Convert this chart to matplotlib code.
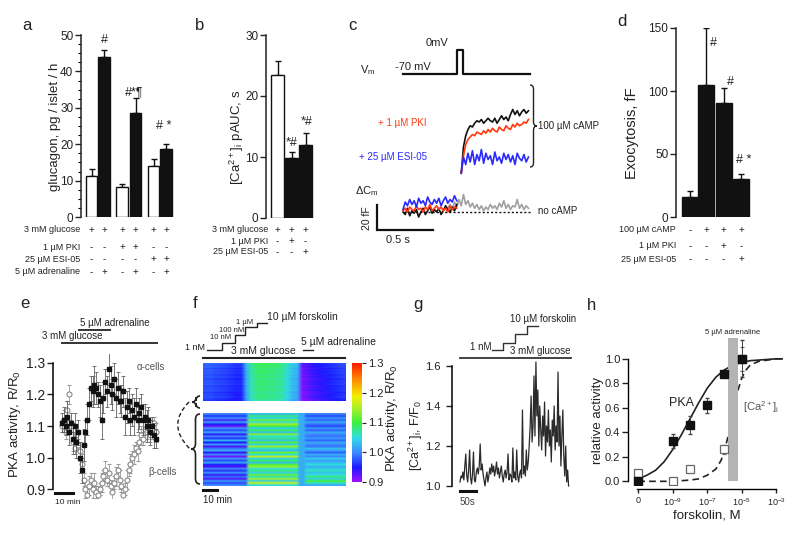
import numpy as np
import matplotlib
matplotlib.use('Agg')
import matplotlib.pyplot as plt
from matplotlib.path import Path
from matplotlib.patches import PathPatch
from matplotlib.colors import LinearSegmentedColormap
from matplotlib.ticker import MultipleLocator
import matplotlib.transforms as mtransforms

plt.rcParams['font.family'] = ['Liberation Sans', 'DejaVu Sans']
plt.rcParams['mathtext.fontset'] = 'custom'
plt.rcParams['mathtext.rm'] = 'Liberation Sans'
plt.rcParams['mathtext.it'] = 'Liberation Sans:italic'
plt.rcParams['mathtext.default'] = 'regular'

INK = '#222222'

# ---------------- data ----------------
# a: glucagon secretion
glucagon_mean = [11.3, 44.0, 8.2, 28.6, 14.0, 18.7]
glucagon_err = [1.8, 1.8, 1.0, 4.0, 1.8, 1.3]
a_labels = ['3 mM glucose', '1 µM PKI', '25 µM ESI-05', '5 µM adrenaline']
a_rows = [['+', '+', '+', '+', '+', '+'],
          ['-', '-', '+', '+', '-', '-'],
          ['-', '-', '-', '-', '+', '+'],
          ['-', '+', '-', '+', '-', '+']]

# b: Ca pAUC
ca_auc_mean = [23.5, 9.9, 11.9]
ca_auc_err = [2.3, 1.0, 2.0]
b_labels = ['3 mM glucose', '1 µM PKI', '25 µM ESI-05']
b_rows = [['+', '+', '+'], ['-', '+', '-'], ['-', '-', '+']]

# c: capacitance traces (fF), sampled every 20 ms
vm_times = [0.0, 0.482, 0.482, 0.536, 0.536, 1.134]
vm_levels = [-70, -70, 0, 0, -70, -70]
camp_black = [31, 52, 61, 66, 69, 68, 71, 73, 72, 74, 71, 73, 75, 73, 72, 75,
              71, 74, 77, 74, 76, 73, 78, 82, 78, 81, 77, 80, 82, 79, 81]
camp_red = [31, 45, 54, 58, 60, 62, 61, 64, 63, 62, 65, 63, 66, 64, 67, 65,
            64, 68, 66, 65, 69, 67, 66, 70, 68, 71, 69, 70, 72, 71, 74]
camp_blue = [31, 44, 38, 47, 40, 49, 38, 46, 41, 50, 39, 47, 42, 45, 38, 48,
             41, 44, 39, 47, 42, 46, 40, 45, 38, 47, 43, 41, 46, 40, 44]
base_blue = [2, 8, 5, 10, 6, 9, 4, 11, 7, 9, 5, 12, 8, 6, 10, 7, 11, 5, 9, 12,
             7, 10, 8, 13, 9]
base_red = [1, 3, 0, 4, 2, 1, 5, 2, 3, 0, 4, 2, 6, 1, 3, 5, 2, 4, 1, 3, 0, 5,
            2, 4, 3]
base_black = [0, -2, 3, -3, 1, -1, 2, -4, 0, 3, -2, 1, 4, -1, 2, 0, 3, -2, 1,
              5, 2, 0, 4, 1, 6]
base_gray = [3, 6, 2, 8, 4, 10, 5, 14, 6, 9, 4, 7, 3, 6, 2, 5, 1, 4, 2, 6, 3,
             5, 2, 7, 4, 9, 3, 6, 2, 5, 4, 10, 3, 6, 2, 5, 3]

# d: exocytosis
exo_mean = [16, 105, 90.5, 30]
exo_err = [5, 45, 12, 4]
d_labels = ['100 µM cAMP', '1 µM PKI', '25 µM ESI-05']
d_rows = [['-', '+', '+', '+'], ['-', '-', '+', '-'], ['-', '-', '-', '+']]

# e: PKA activity, one point per minute
pka_alpha = [1.11, 1.12, 1.10, 1.13, 1.08, 1.11, 1.06, 1.10, 1.05, 1.08,
             1.00, 0.96, 1.04, 1.08, 1.12, 1.17, 1.22, 1.21, 1.23, 1.22,
             1.20, 1.18, 1.12, 1.19, 1.24, 1.21, 1.28, 1.23, 1.20, 1.25,
             1.19, 1.22, 1.18, 1.18, 1.21, 1.13, 1.16, 1.18, 1.12, 1.15,
             1.13, 1.17, 1.12, 1.14, 1.16, 1.12, 1.13, 1.10, 1.12, 1.08,
             1.10, 1.07, 1.06]
pka_alpha_err = [0.03, 0.04, 0.03, 0.05, 0.04, 0.03, 0.05, 0.04, 0.05, 0.04,
                 0.05, 0.04, 0.05, 0.04, 0.05, 0.05, 0.04, 0.05, 0.06, 0.05,
                 0.04, 0.05, 0.06, 0.05, 0.04, 0.05, 0.05, 0.06, 0.05, 0.05,
                 0.06, 0.05, 0.04, 0.05, 0.05, 0.06, 0.05, 0.04, 0.05, 0.05,
                 0.06, 0.05, 0.04, 0.05, 0.04, 0.05, 0.04, 0.05, 0.04, 0.04,
                 0.03, 0.04, 0.03]
pka_beta = [1.10, 1.12, 1.08, 1.15, 1.20, 1.10, 1.05, 1.03, 1.07, 1.04,
            1.02, 0.98, 0.93, 0.90, 0.88, 0.91, 0.93, 0.90, 0.92, 0.89,
            0.88, 0.90, 0.92, 0.94, 0.96, 0.93, 0.95, 0.91, 0.89, 0.92,
            0.94, 0.96, 0.93, 0.91, 0.88, 0.90, 0.93, 0.96, 0.98, 1.00,
            1.01, 1.03, 1.02, 1.05, 1.07, 1.06, 1.09, 1.08, 1.10, 1.07,
            1.09, 1.11, 1.08]
pka_beta_err = [0.02, 0.03, 0.02, 0.03, 0.03, 0.02, 0.03, 0.02, 0.03, 0.02,
                0.03, 0.03, 0.02, 0.03, 0.02, 0.03, 0.02, 0.03, 0.03, 0.02,
                0.03, 0.02, 0.03, 0.02, 0.03, 0.02, 0.03, 0.02, 0.03, 0.02,
                0.03, 0.02, 0.03, 0.02, 0.03, 0.02, 0.03, 0.02, 0.03, 0.02,
                0.03, 0.02, 0.03, 0.02, 0.03, 0.02, 0.03, 0.02, 0.03, 0.02,
                0.03, 0.02, 0.03]
adrenaline_min = [9.4, 26.7]
glucose_min = [0, 53]

# f: heatmaps (R/R0)
top_col_profile = [0.975, 0.975, 0.97, 0.968, 0.965, 0.96, 0.955,
                   0.955, 1.02, 1.065, 1.08, 1.085, 1.08, 1.08, 1.075, 1.07,
                   1.05, 1.03, 1.02,
                   0.915, 0.925, 0.935, 0.94, 0.945, 0.95, 0.955, 0.96, 0.965]
top_row_offset = [0.012, 0.004, 0.010, -0.002, 0.008, 0.000, 0.006, -0.004,
                  0.004, 0.000, -0.006, 0.003, -0.002, 0.005, -0.008, 0.000,
                  -0.004, 0.002, -0.010, -0.003, -0.006, 0.001, -0.008, -0.012]
bot_pre = [1.00, 0.96, 1.01, 0.93, 1.02, 0.95, 0.92, 1.01, 0.97, 1.02, 0.94,
           1.00, 0.96, 1.03, 0.95, 1.01, 0.93, 0.99, 1.02, 0.94, 1.00, 0.92,
           1.01, 0.97, 1.02, 0.95, 0.93, 1.00, 0.96, 1.01, 0.94, 0.99, 0.93,
           1.01, 0.97, 1.00]
bot_fsk = [1.03, 1.08, 1.04, 1.12, 1.05, 1.15, 1.10, 1.04, 1.09, 1.03, 1.13,
           1.05, 1.08, 1.03, 1.11, 1.04, 1.14, 1.06, 1.03, 1.12, 1.05, 1.16,
           1.04, 1.09, 1.03, 1.11, 1.14, 1.05, 1.08, 1.04, 1.12, 1.06, 1.15,
           1.04, 1.17, 1.05]
bot_adr = [1.00, 0.97, 1.01, 0.98, 1.02, 0.99, 0.97, 1.01, 0.98, 1.02, 1.00,
           0.99, 1.01, 0.98, 1.02, 1.00, 0.99, 1.03, 1.01, 0.98, 1.02, 1.00,
           1.04, 1.01, 1.03, 1.05, 1.02, 1.04, 1.06, 1.03, 1.05, 1.08, 1.04,
           1.10, 1.06, 1.02]
washout_level = 1.02

# g: Ca trace (F/F0), one sample every 3 s
ca_trace = [1.02, 1.05, 1.04, 1.07, 1.03, 1.10, 1.16, 1.05, 1.02, 1.08, 1.18,
            1.04, 1.01, 1.06, 1.17, 1.03, 1.02, 1.07, 1.09, 1.06, 1.10, 1.21,
            1.08, 1.11, 1.06, 1.03, 1.00, 1.04, 1.07, 1.02, 1.05, 1.09, 1.06,
            1.11,
            1.07, 1.10, 1.05, 1.08, 1.12, 1.06, 1.09, 1.04, 1.07, 1.10, 1.05,
            1.02, 1.06, 1.08, 1.04, 1.07, 1.16, 1.03, 1.06, 1.05, 1.02, 1.19,
            1.04, 1.07, 1.03, 1.18, 1.05, 1.02, 1.06, 1.08, 1.04, 1.38, 1.06,
            1.10, 1.05, 1.18, 1.08, 1.12, 1.20, 1.30,
            1.45, 1.22, 1.30, 1.55, 1.25, 1.62, 1.35, 1.48, 1.20, 1.40, 1.28,
            1.18, 1.35, 1.25, 1.42, 1.15, 1.30, 1.22, 1.38, 1.20, 1.28, 1.12,
            1.33, 1.25, 1.40, 1.18, 1.30, 1.22, 1.57, 1.20, 1.35, 1.10, 1.25,
            1.38, 1.15, 1.05, 1.20, 1.02, 1.08, 1.00]
g_step_times = [100, 134, 172, 209, 244]
g_step_levels = [1.68, 1.715, 1.76, 1.80]

# h: dose response
fsk_log = [-11, -9, -8, -7, -6, -5]
pka_rel = [0.0, 0.33, 0.46, 0.62, 0.88, 1.0]
pka_rel_err = [0.0, 0.06, 0.07, 0.06, 0.02, 0.15]
ca_log = [-11, -9, -8, -6, -5]
ca_rel = [0.07, 0.0, 0.10, 0.26, 1.0]
ca_rel_err = [0.0, 0.0, 0.0, 0.04, 0.10]
pka_fit_x = [-11, -10.5, -10, -9.5, -9, -8.5, -8, -7.5, -7, -6.5, -6, -5.5, -5,
             -4.5, -4, -3.5, -3, -2.6]
pka_fit_y = [0.02, 0.05, 0.09, 0.16, 0.26, 0.38, 0.51, 0.64, 0.76, 0.85, 0.91,
             0.95, 0.97, 0.985, 0.99, 0.995, 1.0, 1.0]
ca_fit_x = [-11, -10, -9, -8, -7.5, -7, -6.5, -6.2, -6, -5.8, -5.6, -5.4, -5.2,
            -5, -4.8, -4.5, -4, -3.5, -3, -2.6]
ca_fit_y = [0.0, 0.0, 0.0, 0.01, 0.02, 0.05, 0.1, 0.17, 0.25, 0.36, 0.5, 0.63,
            0.75, 0.84, 0.9, 0.95, 0.98, 0.99, 1.0, 1.0]
adr_band = [-5.8, -5.22]
h_ticks = [-11, -9, -7, -5, -3]
h_ticklabels = ['0', '10$^{-9}$', '10$^{-7}$', '10$^{-5}$', '10$^{-3}$']

# ---------------- figure ----------------
W, H = 800, 534
fig = plt.figure(figsize=(8, 5.34), dpi=100)


def add_ax(l, t, r, b):
    return fig.add_axes([l / W, 1 - b / H, (r - l) / W, (b - t) / H])


def ftext(x, y, s, **kw):
    kw.setdefault('color', INK)
    return fig.text(x / W, 1 - y / H, s, **kw)


def fline(xs, ys, **kw):
    kw.setdefault('color', INK)
    fig.add_artist(plt.Line2D([x / W for x in xs], [1 - y / H for y in ys],
                              transform=fig.transFigure, **kw))


def brace(x, y0, y1, w, **kw):
    ym = (y0 + y1) / 2
    r = abs(w) * 0.6
    xm = x + w / 2
    xt = x + w
    pts = [(x, y0), (xm, y0), (xm, y0 + r), (xm, ym - r), (xm, ym), (xt, ym),
           (xm, ym), (xm, ym + r), (xm, y1 - r), (xm, y1), (x, y1)]
    codes = [Path.MOVETO, Path.CURVE3, Path.CURVE3, Path.LINETO, Path.CURVE3,
             Path.CURVE3, Path.CURVE3, Path.CURVE3, Path.LINETO, Path.CURVE3,
             Path.CURVE3]
    verts = [(px / 100, (H - py) / 100) for px, py in pts]
    fig.add_artist(PathPatch(Path(verts, codes), transform=fig.dpi_scale_trans,
                             fill=False, **kw))


def style_bar_ax(ax, ymax, major, minor=None):
    for s in ['top', 'right', 'bottom']:
        ax.spines[s].set_visible(False)
    ax.spines['left'].set_linewidth(1.1)
    ax.spines['left'].set_color(INK)
    ax.set_ylim(0, ymax)
    ax.yaxis.set_major_locator(MultipleLocator(major))
    if minor:
        ax.yaxis.set_minor_locator(MultipleLocator(minor))
    ax.set_xticks([])
    ax.tick_params(axis='y', direction='out', length=4, width=1, labelsize=8.5,
                   pad=1.5, colors=INK)
    ax.tick_params(axis='y', which='minor', length=2, width=0.8)
    ax.patch.set_alpha(0)


def table(ax, xs, rows, labels, ys, label_x, size=6.5):
    tr = mtransforms.blended_transform_factory(ax.transData, fig.transFigure)
    for lab, row, y in zip(labels, rows, ys):
        ftext(label_x, y, lab, ha='right', va='center', fontsize=size)
        for x, s in zip(xs, row):
            ax.text(x, 1 - y / H, s, transform=tr, ha='center', va='center',
                    fontsize=size + 0.5, color=INK, clip_on=False)


def bars(ax, xs, means, errs, colors, width):
    ax.bar(xs, means, width=width, color=colors, edgecolor='#111111',
           linewidth=1.0, zorder=2)
    ax.errorbar(xs, means, yerr=[[0] * len(errs), errs], fmt='none',
                ecolor='#111111', elinewidth=1.0, capsize=2, capthick=1.0,
                zorder=1)


# ---- a ----
ax = add_ax(81, 35, 176, 217)
xa = [91.5, 104, 122, 135.5, 153.5, 166]
ax.set_xlim(81, 176)
style_bar_ax(ax, 50, 10, 2.5)
bars(ax, xa, glucagon_mean, glucagon_err, ['white', '#111111'] * 3, 11.5)
table(ax, xa, a_rows, a_labels, [230, 247, 259, 272], 80)
ftext(27, 25, 'a', fontsize=12, ha='center', va='center')
ftext(55, 127, 'glucagon, pg / islet / h', rotation=90, fontsize=9.5,
      ha='center', va='center')
ftext(104, 40, '#', fontsize=9, ha='center', va='center')
ftext(134, 92, '#*¶', fontsize=9, ha='center', va='center')
ftext(164, 126, '# *', fontsize=9, ha='center', va='center')

# ---- b ----
ax = add_ax(266, 35, 318, 218)
xb = [277.5, 291.5, 305.5]
ax.set_xlim(266, 318)
style_bar_ax(ax, 30, 10)
bars(ax, xb, ca_auc_mean, ca_auc_err, ['white', '#111111', '#111111'], 13.5)
table(ax, xb, b_rows, b_labels, [230, 241, 252], 268)
ftext(200, 25, 'b', fontsize=12, ha='center', va='center')
ftext(237, 137, '[Ca$^{2+}$]$_i$ pAUC, s', rotation=90, fontsize=9.5,
      ha='center', va='center')
ftext(292, 143, '*#', fontsize=9, ha='center', va='center')
ftext(307, 122, '*#', fontsize=9, ha='center', va='center')

# ---- c ----
axv = add_ax(350, 40, 600, 80)
axv.set_xlim(-0.473, 1.759)
axv.set_ylim(-87.5, 29.2)
axv.axis('off')
axv.plot(vm_times, vm_levels, color='#111111', lw=1.6)

axc = add_ax(350, 80, 600, 250)
axc.set_xlim(-0.473, 1.759)
axc.set_ylim(-30.4, 105.6)
axc.axis('off')
t_camp = 0.52 + 0.02 * np.arange(len(camp_black))
t_base = 0.02 * np.arange(len(base_blue))
t_gray = 0.40 + 0.02 * np.arange(len(base_gray))
axc.plot([0, 1.14], [0, 0], color='#111111', lw=1, ls=(0, (1.5, 1.5)))
axc.plot(t_gray, base_gray, color='#a0a0a0', lw=1.2)
axc.plot(t_base, base_black, color='#111111', lw=1.2)
axc.plot(t_base, base_red, color='#ff3a10', lw=1.2)
axc.plot(t_base, base_blue, color='#2a2aff', lw=1.2)
axc.plot(t_camp, camp_black, color='#111111', lw=1.2)
axc.plot(t_camp, camp_red, color='#ff3a10', lw=1.2)
axc.plot(t_camp, camp_blue, color='#2a2aff', lw=1.2)
sb_t, sb_c = -0.232, -14.4
axc.plot([sb_t, sb_t, sb_t + 0.5], [sb_c + 20, sb_c, sb_c], color='#111111',
         lw=1.6, solid_joinstyle='miter')
ftext(352, 25, 'c', fontsize=12, ha='center', va='center')
ftext(437, 43, '0mV', fontsize=8, ha='center', va='center')
ftext(368, 70, 'V$_m$', fontsize=8, ha='center', va='center')
ftext(395, 67, '-70 mV', fontsize=8, ha='left', va='center')
ftext(427, 123, '+ 1 µM PKI', fontsize=7, ha='right', va='center',
      color='#ff3a10')
ftext(427, 157, '+ 25 µM ESI-05', fontsize=7, ha='right', va='center',
      color='#2a2aff')
ftext(538, 126, '100 µM cAMP', fontsize=7, ha='left', va='center')
ftext(538, 211, 'no cAMP', fontsize=7, ha='left', va='center')
ftext(355, 191, 'ΔC$_m$', fontsize=8, ha='left', va='center')
ftext(367, 218, '20 fF', fontsize=7.5, rotation=90, ha='center', va='center')
ftext(386, 240, '0.5 s', fontsize=8, ha='left', va='center')
brace(530, 85, 167, 7, color=INK, lw=1.0)

# ---- d ----
ax = add_ax(676, 28, 752, 217)
xd = [690, 706, 723.5, 741]
ax.set_xlim(676, 752)
style_bar_ax(ax, 150, 50)
bars(ax, xd, exo_mean, exo_err, ['#111111'] * 4, 16)
table(ax, xd, d_rows, d_labels, [230, 246, 259], 676)
ftext(622, 22, 'd', fontsize=12, ha='center', va='center')
ftext(632, 133, 'Exocytosis, fF', rotation=90, fontsize=10.5,
      ha='center', va='center')
ftext(713, 43, '#', fontsize=9, ha='center', va='center')
ftext(730, 82, '#', fontsize=9, ha='center', va='center')
ftext(744, 160, '# *', fontsize=9, ha='center', va='center')

# ---- e ----
ax = add_ax(53, 353.5, 165, 498.5)
t_e = np.arange(len(pka_alpha))
ax.set_xlim(-5, 57.2)
ax.set_ylim(0.87, 1.33)
ax.errorbar(t_e, pka_beta, yerr=pka_beta_err, fmt='o', ms=3.6, mfc='white',
            mec='#8a8a8a', mew=0.8, ecolor='#9a9a9a', elinewidth=0.6,
            capsize=1.2, capthick=0.6, zorder=2)
ax.errorbar(t_e, pka_alpha, yerr=pka_alpha_err, fmt='s', ms=3.4,
            mfc='#111111', mec='#111111', ecolor='#606060', elinewidth=0.6,
            capsize=1.2, capthick=0.6, zorder=3)
for s in ['top', 'right', 'bottom']:
    ax.spines[s].set_visible(False)
ax.spines['left'].set_bounds(0.9, 1.3)
ax.spines['left'].set_linewidth(1.1)
ax.set_xticks([])
ax.set_yticks([0.9, 1.0, 1.1, 1.2, 1.3])
ax.tick_params(axis='y', length=4, width=1, labelsize=10, pad=1.5, colors=INK)
ax.patch.set_alpha(0)
ax.plot(glucose_min, [1.3635, 1.3635], color='#333333', lw=1.4, clip_on=False)
ax.plot(adrenaline_min, [1.405, 1.405], color='#333333', lw=1.4,
        clip_on=False)
ax.plot([-3.9, -3.9 + 10], [0.886, 0.886], color='#111111', lw=2.2,
        clip_on=False)
ftext(80, 328, '5 µM adrenaline', fontsize=7, ha='left', va='bottom')
ftext(42, 341, '3 mM glucose', fontsize=7, ha='left', va='bottom')
ftext(55, 502, '10 min', fontsize=6, ha='left', va='center')
ftext(137, 367, 'α-cells', fontsize=7, ha='left', va='center', color='#555555')
ftext(148, 472, 'β-cells', fontsize=7, ha='left', va='center', color='#555555')
ftext(25, 303, 'e', fontsize=12, ha='center', va='center')
ftext(15, 424, 'PKA activity, R/R$_0$', rotation=90, fontsize=9.5,
      ha='center', va='center')

# ---- f ----
cmap = LinearSegmentedColormap.from_list('pka', [
    (0.0, '#a010ff'), (0.12, '#1a1aff'), (0.25, '#3c8cff'), (0.37, '#30dce6'),
    (0.5, '#3cf03c'), (0.62, '#a8f028'), (0.72, '#f0f000'), (0.86, '#ff8c00'),
    (1.0, '#ff1a00')])
top_map = np.add.outer(np.array(top_row_offset), np.array(top_col_profile))
n_bot = len(bot_pre)
bot_map = np.hstack([np.repeat(np.array(bot_pre)[:, None], 13, axis=1),
                     np.repeat(np.array(bot_fsk)[:, None], 15, axis=1),
                     np.full((n_bot, 2), washout_level),
                     np.repeat(np.array(bot_adr)[:, None], 12, axis=1)])
axf1 = add_ax(203, 363, 345, 401)
im = axf1.imshow(top_map, cmap=cmap, vmin=0.9, vmax=1.3, aspect='auto',
                 interpolation='bilinear')
axf1.axis('off')
axf2 = add_ax(203, 413, 345, 486)
axf2.imshow(bot_map, cmap=cmap, vmin=0.9, vmax=1.3, aspect='auto',
            interpolation='bilinear')
axf2.axis('off')
cax = add_ax(352, 363, 362, 482)
cb = fig.colorbar(im, cax=cax, ticks=[0.9, 1.0, 1.1, 1.2, 1.3])
cb.outline.set_visible(False)
cax.tick_params(labelsize=8, length=3, width=0.8, pad=1.5, colors=INK)
ftext(392, 418, 'PKA activity, R/R$_0$', rotation=90, fontsize=9.5,
      ha='center', va='center')
fline([203, 345], [358, 358], lw=1.5)
fline([207, 222, 222, 235, 235, 245, 245, 257, 257, 267],
      [350, 350, 343, 343, 335, 335, 327, 327, 323, 323], lw=1.0)
fline([303, 313], [350, 350], lw=1.0)
ftext(205, 348, '1 nM', fontsize=6.5, ha='right', va='center')
ftext(210, 341, '10 nM', fontsize=5.5, ha='left', va='bottom')
ftext(219, 334, '100 nM', fontsize=5.5, ha='left', va='bottom')
ftext(236, 326, '1 µM', fontsize=5.5, ha='left', va='bottom')
ftext(267, 322, '10 µM forskolin', fontsize=7.5, ha='left', va='bottom')
ftext(301, 347, '5 µM adrenaline', fontsize=7.5, ha='left', va='bottom')
ftext(263, 356, '3 mM glucose', fontsize=7.5, ha='center', va='bottom')
fline([203, 217], [490, 490], lw=2.2, color='#111111')
ftext(203, 500, '10 min', fontsize=7, ha='left', va='center')
ftext(195, 303, 'f', fontsize=12, ha='center', va='center')
brace(200, 396, 408, -8, color=INK, lw=1.2)
brace(200, 414, 484, -9, color=INK, lw=1.2)
arc = Path([(189 / 100, (H - 402) / 100), (166 / 100, (H - 425) / 100),
            (190 / 100, (H - 449) / 100)],
           [Path.MOVETO, Path.CURVE3, Path.CURVE3])
fig.add_artist(PathPatch(arc, transform=fig.dpi_scale_trans, fill=False,
                         color=INK, lw=1.0, ls=(0, (3, 2))))

# ---- g ----
ax = add_ax(452, 358, 575, 490)
t_g = 3.0 * np.arange(len(ca_trace))
ax.set_xlim(-25, 359)
ax.set_ylim(0.98, 1.64)
ax.plot(t_g, ca_trace, color='#2a2a2a', lw=0.9)
for s in ['top', 'right', 'bottom']:
    ax.spines[s].set_visible(False)
ax.spines['left'].set_bounds(1.0, 1.6)
ax.spines['left'].set_linewidth(1.1)
ax.set_xticks([])
ax.set_yticks([1.0, 1.2, 1.4, 1.6])
ax.tick_params(axis='y', length=4, width=1, labelsize=8, pad=4.5,
               colors=INK)
ax.patch.set_alpha(0)
ax.plot([0, 347], [1.64, 1.64], color='#333333', lw=1.3, clip_on=False)
sx, sy = [], []
for i, lev in enumerate(g_step_levels):
    sx += [g_step_times[i], g_step_times[i + 1]]
    sy += [lev, lev]
ax.plot(sx, sy, color='#333333', lw=1.0, clip_on=False)
ax.plot([0, 50], [0.975, 0.975], color='#111111', lw=2.2, clip_on=False)
ftext(491, 347, '1 nM', fontsize=7, ha='right', va='center')
ftext(510, 324, '10 µM forskolin', fontsize=7, ha='left', va='bottom')
ftext(571, 356, '3 mM glucose', fontsize=7, ha='right', va='bottom')
ftext(460, 502, '50s', fontsize=7, ha='left', va='center', color='#444444')
ftext(418, 305, 'g', fontsize=12, ha='center', va='center')
ftext(416, 435, '[Ca$^{2+}$]$_i$, F/F$_0$', rotation=90, fontsize=9,
      ha='center', va='center')

# ---- h ----
ax = add_ax(628, 338, 783, 485)
ax.set_xlim(-11.6, -2.6)
ax.set_ylim(-0.03, 1.17)
ax.plot(pka_fit_x, pka_fit_y, color='#222222', lw=1.2, zorder=2)
ax.plot(ca_fit_x, ca_fit_y, color='#222222', lw=1.2, ls=(0, (4, 2.5)),
        zorder=2)
ax.axvspan(adr_band[0], adr_band[1], ymin=0.025, ymax=1.0, color='#b4b4b4',
           lw=0, zorder=3)
ax.errorbar(ca_log, ca_rel, yerr=ca_rel_err, fmt='s', ms=5.5, mfc='white',
            mec='#666666', mew=0.9, ecolor='#666666', elinewidth=0.7,
            capsize=1.5, zorder=4)
ax.errorbar(fsk_log, pka_rel, yerr=pka_rel_err, fmt='s', ms=5.5,
            mfc='#111111', mec='#111111', ecolor='#444444', elinewidth=0.7,
            capsize=1.5, zorder=5)
for s in ['top', 'right']:
    ax.spines[s].set_visible(False)
ax.spines['left'].set_bounds(0, 1.0)
ax.spines['bottom'].set_bounds(-11.1, -3)
ax.spines['bottom'].set_position(('outward', 3))
for s in ['left', 'bottom']:
    ax.spines[s].set_linewidth(1.0)
ax.set_yticks([0.0, 0.2, 0.4, 0.6, 0.8, 1.0])
ax.set_yticklabels(['0.0', '0.2', '0.4', '0.6', '0.8', '1.0'])
ax.set_xticks(h_ticks)
ax.set_xticklabels(h_ticklabels)
ax.tick_params(axis='y', length=4, width=1, labelsize=8, pad=1.5, colors=INK)
ax.tick_params(axis='x', length=3, width=1, labelsize=6.5, pad=2, colors=INK)
ax.patch.set_alpha(0)
ax.text(np.mean(adr_band), 1.19, '5 µM adrenaline', fontsize=5.5,
        ha='center', va='bottom', color=INK, clip_on=False)
ftext(681, 403, 'PKA', fontsize=9, ha='center', va='center')
ftext(743, 407, '[Ca$^{2+}$]$_i$', fontsize=8, ha='left', va='center',
      color='#555555')
ftext(707, 515, 'forskolin, M', fontsize=9.5, ha='center', va='center')
ftext(598, 420, 'relative activity', rotation=90, fontsize=9.5,
      ha='center', va='center')
ftext(592, 305, 'h', fontsize=12, ha='center', va='center')

fig.savefig('out.png', dpi=100)
